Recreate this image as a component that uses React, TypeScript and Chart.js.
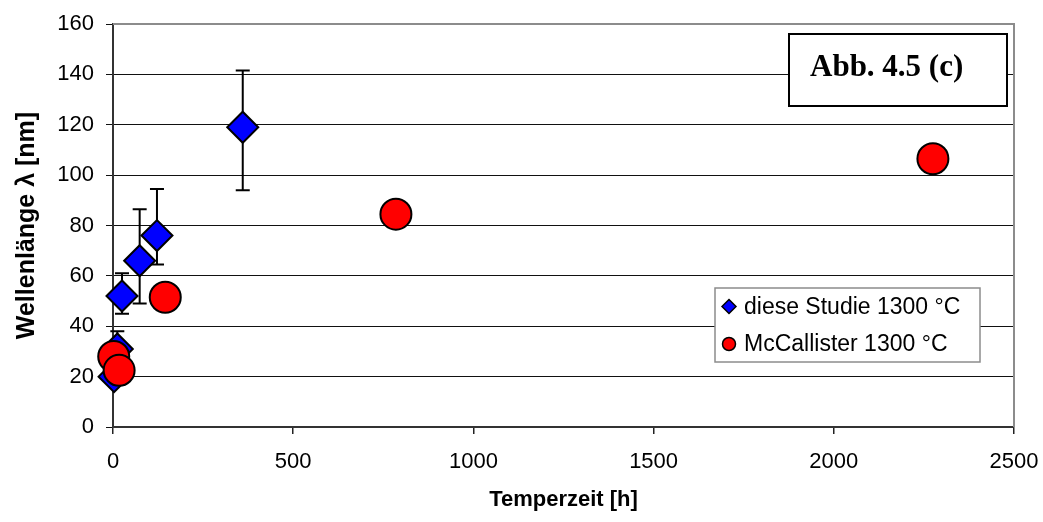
import { useEffect, useRef } from "react";
import { Chart, registerables } from "chart.js";

Chart.register(...registerables);

// Tick values
const xTickWerte = [0, 500, 1000, 1500, 2000, 2500];
const yTickWerte = [0, 20, 40, 60, 80, 100, 120, 140, 160];

// diese Studie 1300 °C: Temperzeit [h], Wellenlänge [nm], Fehlerbalken
const studieZeit = [3, 12, 25, 74, 122, 360];
const studieLambda = [20, 31, 52, 66, 76, 119];
const studieFehlerPlus = [0, 7, 9, 20.5, 18.5, 22.5];
const studieFehlerMinus = [0, 7, 7, 17, 11.5, 25];

// McCallister 1300 °C
const mcZeit = [2, 17, 145, 785, 2275];
const mcLambda = [28, 22.5, 51.5, 84.5, 106.5];

const serienNamen = ["diese Studie 1300 °C", "McCallister 1300 °C"];
const titelText = "Abb. 4.5 (c)";

const SANS = "'Liberation Sans', Arial, sans-serif";
const SERIF = "'Liberation Serif', 'Times New Roman', serif";

export default function App() {
  const ref = useRef<HTMLCanvasElement>(null);

  useEffect(() => {
    const canvas = ref.current;
    if (!canvas) return;

    const errorBars = {
      id: "errorBars",
      beforeDatasetsDraw(chart: any) {
        const { ctx, scales } = chart;
        const xs = scales.x;
        const ys = scales.y;
        ctx.save();
        ctx.strokeStyle = "#000";
        ctx.lineWidth = 2;
        studieZeit.forEach((t, i) => {
          const plus = studieFehlerPlus[i];
          const minus = studieFehlerMinus[i];
          if (!plus && !minus) return;
          const px = xs.getPixelForValue(t);
          const yTop = ys.getPixelForValue(studieLambda[i] + plus);
          const yBot = ys.getPixelForValue(studieLambda[i] - minus);
          ctx.beginPath();
          ctx.moveTo(px, yTop);
          ctx.lineTo(px, yBot);
          ctx.moveTo(px - 7, yTop);
          ctx.lineTo(px + 7, yTop);
          ctx.moveTo(px - 7, yBot);
          ctx.lineTo(px + 7, yBot);
          ctx.stroke();
        });
        ctx.restore();
      },
    };

    const overlay = {
      id: "overlay",
      afterDraw(chart: any) {
        const { ctx, chartArea } = chart;
        const ds = chart.data.datasets;
        ctx.save();

        // top and right frame of the plot area
        ctx.strokeStyle = "#8c8c8c";
        ctx.lineWidth = 2;
        ctx.beginPath();
        ctx.moveTo(chartArea.left, chartArea.top);
        ctx.lineTo(chartArea.right, chartArea.top);
        ctx.lineTo(chartArea.right, chartArea.bottom);
        ctx.stroke();

        // legend box
        const lx = 715, ly = 288, lw = 265, lh = 74;
        ctx.fillStyle = "#fff";
        ctx.fillRect(lx, ly, lw, lh);
        ctx.strokeStyle = "#8c8c8c";
        ctx.lineWidth = 1.5;
        ctx.strokeRect(lx, ly, lw, lh);

        const rows = [306.5, 344];
        ctx.lineWidth = 1.5;
        ctx.strokeStyle = "#000";
        // diamond
        ctx.fillStyle = ds[0].backgroundColor;
        ctx.beginPath();
        ctx.moveTo(729, rows[0] - 7);
        ctx.lineTo(736, rows[0]);
        ctx.lineTo(729, rows[0] + 7);
        ctx.lineTo(722, rows[0]);
        ctx.closePath();
        ctx.fill();
        ctx.stroke();
        // circle
        ctx.fillStyle = ds[1].backgroundColor;
        ctx.beginPath();
        ctx.arc(729, rows[1], 6.5, 0, Math.PI * 2);
        ctx.fill();
        ctx.stroke();

        ctx.fillStyle = "#000";
        ctx.font = `23px ${SANS}`;
        ctx.textAlign = "left";
        ctx.textBaseline = "middle";
        ctx.fillText(ds[0].label, 744, rows[0] + 1);
        ctx.fillText(ds[1].label, 744, rows[1] + 1);

        // figure label box
        ctx.fillStyle = "#fff";
        ctx.fillRect(789, 34, 218, 72);
        ctx.strokeStyle = "#000";
        ctx.lineWidth = 2;
        ctx.strokeRect(789, 34, 218, 72);
        ctx.fillStyle = "#000";
        ctx.font = `bold 31px ${SERIF}`;
        ctx.textBaseline = "alphabetic";
        ctx.fillText(titelText, 810, 76);

        ctx.restore();
      },
    };

    const chart = new Chart(canvas, {
      type: "scatter",
      data: {
        datasets: [
          {
            label: serienNamen[0],
            data: studieZeit.map((x, i) => ({ x, y: studieLambda[i] })),
            pointStyle: "rectRot",
            pointRadius: 15.5,
            pointHoverRadius: 15.5,
            backgroundColor: "#0000ff",
            borderColor: "#000",
            borderWidth: 2,
            clip: false,
            order: 1,
          },
          {
            label: serienNamen[1],
            data: mcZeit.map((x, i) => ({ x, y: mcLambda[i] })),
            pointStyle: "circle",
            pointRadius: 15.5,
            pointHoverRadius: 15.5,
            backgroundColor: "#ff0000",
            borderColor: "#000",
            borderWidth: 2,
            clip: false,
            order: 0,
          },
        ],
      },
      options: {
        responsive: false,
        animation: false,
        devicePixelRatio: 1,
        events: [],
        layout: { padding: { left: 0, top: 24, right: 29, bottom: 0 } },
        plugins: {
          legend: { display: false },
          tooltip: { enabled: false },
        },
        scales: {
          x: {
            type: "linear",
            min: 0,
            max: 2500,
            afterBuildTicks: (s: any) => {
              s.ticks = xTickWerte.map((v) => ({ value: v }));
            },
            afterFit: (s: any) => {
              s.height = 95;
              s.paddingLeft = 0;
              s.paddingRight = 0;
            },
            ticks: {
              color: "#000",
              font: { family: SANS, size: 22 },
              padding: 15,
              maxRotation: 0,
              callback: (v: any) => String(v),
            },
            grid: {
              drawOnChartArea: false,
              drawTicks: true,
              tickLength: 7,
              color: "#222",
              lineWidth: 1.5,
            },
            border: { display: true, color: "#333", width: 2 },
            title: {
              display: true,
              text: "Temperzeit [h]",
              color: "#000",
              font: { family: SANS, size: 22, weight: "bold" },
              padding: { top: 0, bottom: 9 },
            },
          },
          y: {
            type: "linear",
            min: 0,
            max: 160,
            afterBuildTicks: (s: any) => {
              s.ticks = yTickWerte.map((v) => ({ value: v }));
            },
            afterFit: (s: any) => {
              s.width = 113;
              s.paddingTop = 0;
              s.paddingBottom = 0;
            },
            ticks: {
              color: "#000",
              font: { family: SANS, size: 22 },
              padding: 12,
              callback: (v: any) => String(v),
            },
            grid: {
              drawOnChartArea: true,
              drawTicks: true,
              tickLength: 7,
              color: "#111",
              lineWidth: 1,
            },
            border: { display: true, color: "#333", width: 2 },
            title: {
              display: true,
              text: "Wellenlänge λ [nm]",
              color: "#000",
              font: { family: SANS, size: 25, weight: "bold" },
              padding: { top: 12, bottom: 0 },
            },
          },
        },
      },
      plugins: [errorBars, overlay],
    } as any);

    return () => chart.destroy();
  }, []);

  return (
    <div
      style={{
        position: "fixed",
        left: 0,
        top: 0,
        width: 1043,
        height: 522,
        background: "#fff",
      }}
    >
      <canvas
        ref={ref}
        width={1043}
        height={522}
        style={{ width: 1043, height: 522, display: "block" }}
      />
    </div>
  );
}
